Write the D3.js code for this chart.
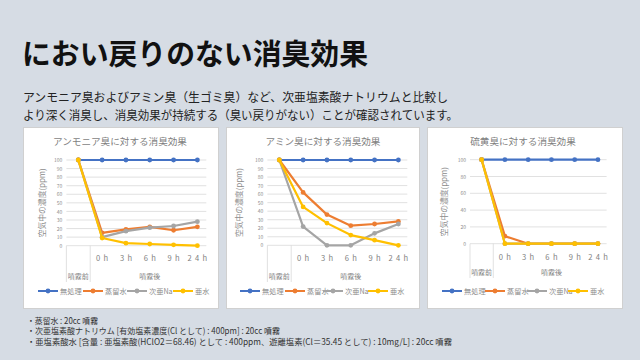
<!DOCTYPE html>
<html><head><meta charset="utf-8">
<script src="https://cdn.jsdelivr.net/npm/d3@7"></script>
<style>
html,body{margin:0;padding:0;background:#d6dce4;}
svg{display:block;}
text{font-family:"Noto Sans CJK JP","Noto Sans",sans-serif;}
</style></head>
<body>
<svg id="c" width="640" height="360"></svg>
<script>
// ---- data ----
const timeLabels = ["", "0 h", "3 h", "6 h", "9 h", "2 4 h"];
const phaseLabels = ["噴霧前", "噴霧後", "噴霧後", "噴霧後", "噴霧後", "噴霧後"];
const seriesNames = ["無処理", "蒸留水", "次亜Na", "亜水"];
const seriesColors = ["#4472C4", "#ED7D31", "#A5A5A5", "#FFC000"];

const ammoniaUntreated = [100, 100, 100, 100, 100, 100];
const ammoniaDistilled = [100, 15, 19, 22, 18, 22];
const ammoniaHypo      = [100, 10, 17, 21, 23, 28];
const ammoniaChlorous  = [100, 9, 3, 2, 1, 0];

const amineUntreated = [100, 100, 100, 100, 100, 100];
const amineDistilled = [100, 62, 36, 23, 25, 28];
const amineHypo      = [100, 22, 0, 0, 14, 25];
const amineChlorous  = [100, 45, 26, 12, 6, 0];

const sulfurUntreated = [100, 100, 100, 100, 100, 100];
const sulfurDistilled = [100, 9, 0, 0, 0, 0];
const sulfurHypo      = [100, 0, 0, 0, 0, 0];
const sulfurChlorous  = [100, 0, 0, 0, 0, 0];

const ammoniaTicks = [0,10,20,30,40,50,60,70,80,90,100];
const amineTicks = [0,10,20,30,40,50,60,70,80,90,100];
const sulfurTicks = [0,20,40,60,80,100];

const chartTitles = ["アンモニア臭に対する消臭効果", "アミン臭に対する消臭効果", "硫黄臭に対する消臭効果"];
const yTitle = "空気中の濃度(ppm)";

const headTitle = "におい戻りのない消臭効果";
const leadLines = ["アンモニア臭およびアミン臭（生ゴミ臭）など、次亜塩素酸ナトリウムと比較し",
                   "より深く消臭し、消臭効果が持続する（臭い戻りがない）ことが確認されています。"];
const notes = ["・蒸留水 : 20cc 噴霧",
               "・次亜塩素酸ナトリウム [有効塩素濃度(Cl として) : 400pm] : 20cc 噴霧",
               "・亜塩素酸水 [含量 : 亜塩素酸(HClO2＝68.46) として : 400ppm、遊離塩素(Cl＝35.45 として) : 10mg/L] : 20cc 噴霧"];

// ---- drawing ----
const svg = d3.select("#c");
svg.append("rect").attr("width",640).attr("height",360).attr("fill","#d6dce4");

svg.append("text").attr("x",22).attr("y",65).attr("font-size",29).attr("font-weight",700)
  .attr("fill","#111").attr("textLength",346).attr("lengthAdjust","spacingAndGlyphs").text(headTitle);
svg.append("text").attr("x",23).attr("y",101.5).attr("font-size",12).attr("fill","#222")
  .attr("textLength",425).attr("lengthAdjust","spacingAndGlyphs").text(leadLines[0]);
svg.append("text").attr("x",23).attr("y",119.5).attr("font-size",12).attr("fill","#222")
  .attr("textLength",435).attr("lengthAdjust","spacingAndGlyphs").text(leadLines[1]);

const notesLen = [71, 253, 425];
notes.forEach((t,i)=>{
  svg.append("text").attr("x",27).attr("y",323.5+i*10.5).attr("font-size",8.5).attr("fill","#333")
    .attr("textLength",notesLen[i]).attr("lengthAdjust","spacingAndGlyphs").text(t);
});

const charts = [
  {box:[23,127,195,181], plot:[66.4,160,209.3,245.7], title:chartTitles[0], titleX:120,
   ticks:ammoniaTicks, series:[ammoniaUntreated,ammoniaDistilled,ammoniaHypo,ammoniaChlorous],
   yTitleX:43, legendX:[38,83,127,173], labelY:258, groupY:278.5, axisBottom:282},
  {box:[226,127,193,181], plot:[267.4,160,410.3,245.3], title:chartTitles[1], titleX:323,
   ticks:amineTicks, series:[amineUntreated,amineDistilled,amineHypo,amineChlorous],
   yTitleX:240, legendX:[240,285,323,368], labelY:258, groupY:278.5, axisBottom:282},
  {box:[427,127,195,181], plot:[470,159.7,609.6,243.7], title:chartTitles[2], titleX:523,
   ticks:sulfurTicks, series:[sulfurUntreated,sulfurDistilled,sulfurHypo,sulfurChlorous],
   yTitleX:445, legendX:[442,485,527,568], labelY:257, groupY:275, axisBottom:278}
];

charts.forEach(c=>{
  const g = svg.append("g");
  const [bx,by,bw,bh] = c.box;
  g.append("rect").attr("x",bx+0.5).attr("y",by+0.5).attr("width",bw).attr("height",bh)
    .attr("fill","#fff").attr("stroke","#d0d0d0").attr("stroke-width",1);
  g.append("text").attr("x",c.titleX).attr("y",144.5).attr("text-anchor","middle")
    .attr("font-size",9.6).attr("fill","#7f7f7f").text(c.title);

  const [x0,y0,x1,y1] = c.plot;
  const x = d3.scaleBand().domain(d3.range(timeLabels.length)).range([x0,x1]);
  const y = d3.scaleLinear().domain([0,100]).range([y1,y0]);
  const cx = i => x(i)+x.bandwidth()/2;

  // gridlines
  g.selectAll(null).data(c.ticks).enter().append("line")
    .attr("x1",x0).attr("x2",x1-3).attr("y1",d=>y(d)).attr("y2",d=>y(d))
    .attr("stroke","#d9d9d9").attr("stroke-width",0.8);
  // y axis labels
  const ya = g.append("g").attr("transform",`translate(${x0-4},0)`)
    .call(d3.axisLeft(y).tickValues(c.ticks).tickSize(0).tickPadding(0));
  ya.select(".domain").remove();
  ya.selectAll("text").attr("font-size",5).attr("fill","#8c8c8c")
    .attr("font-family","'Noto Sans',sans-serif");

  // y title
  g.append("text").attr("transform",`translate(${c.yTitleX},${(y0+y1)/2}) rotate(-90)`)
    .attr("text-anchor","middle").attr("dominant-baseline","middle")
    .attr("font-size",7.8).attr("fill","#8c8c8c").text(yTitle);

  // category axis (multi-level)
  const xa = g.append("g").attr("transform",`translate(0,${c.labelY})`)
    .call(d3.axisBottom(x).tickFormat(i=>timeLabels[i]).tickSize(0).tickPadding(0));
  xa.select(".domain").remove();
  xa.selectAll("text").attr("font-size",7.6).attr("fill","#7f7f7f").attr("letter-spacing",0.8)
    .attr("font-family","'Noto Sans',sans-serif")
    .attr("dy","0.35em").attr("dx",0.4);
  // group labels
  const groups = d3.groups(d3.range(phaseLabels.length), i=>phaseLabels[i]);
  groups.forEach(([lab, idx])=>{
    const a = x(idx[0]), b = x(idx[idx.length-1])+x.bandwidth();
    g.append("text").attr("x",(a+b)/2).attr("y",c.groupY).attr("text-anchor","middle")
      .attr("font-size",7).attr("fill","#7f7f7f").text(lab);
    g.append("line").attr("x1",a).attr("x2",a).attr("y1",y1).attr("y2",c.axisBottom)
      .attr("stroke","#d9d9d9").attr("stroke-width",0.8);
  });

  // series
  const line = d3.line().x((d,i)=>cx(i)).y(d=>y(d));
  c.series.forEach((vals,si)=>{
    g.append("path").datum(vals).attr("d",line).attr("fill","none")
      .attr("stroke",seriesColors[si]).attr("stroke-width",2.2).attr("stroke-linejoin","round");
    g.selectAll(null).data(vals).enter().append("circle")
      .attr("cx",(d,i)=>cx(i)).attr("cy",d=>y(d)).attr("r",2.4).attr("fill",seriesColors[si]);
  });

  // legend
  seriesNames.forEach((n,si)=>{
    const lx = c.legendX[si], ly = 291;
    g.append("line").attr("x1",lx).attr("x2",lx+20).attr("y1",ly).attr("y2",ly)
      .attr("stroke",seriesColors[si]).attr("stroke-width",2);
    g.append("circle").attr("cx",lx+10).attr("cy",ly).attr("r",2.4).attr("fill",seriesColors[si]);
    g.append("text").attr("x",lx+22).attr("y",ly+2.5)
      .attr("font-size",7.2).attr("fill","#8c8c8c").text(n);
  });
});
</script>
</body></html>
